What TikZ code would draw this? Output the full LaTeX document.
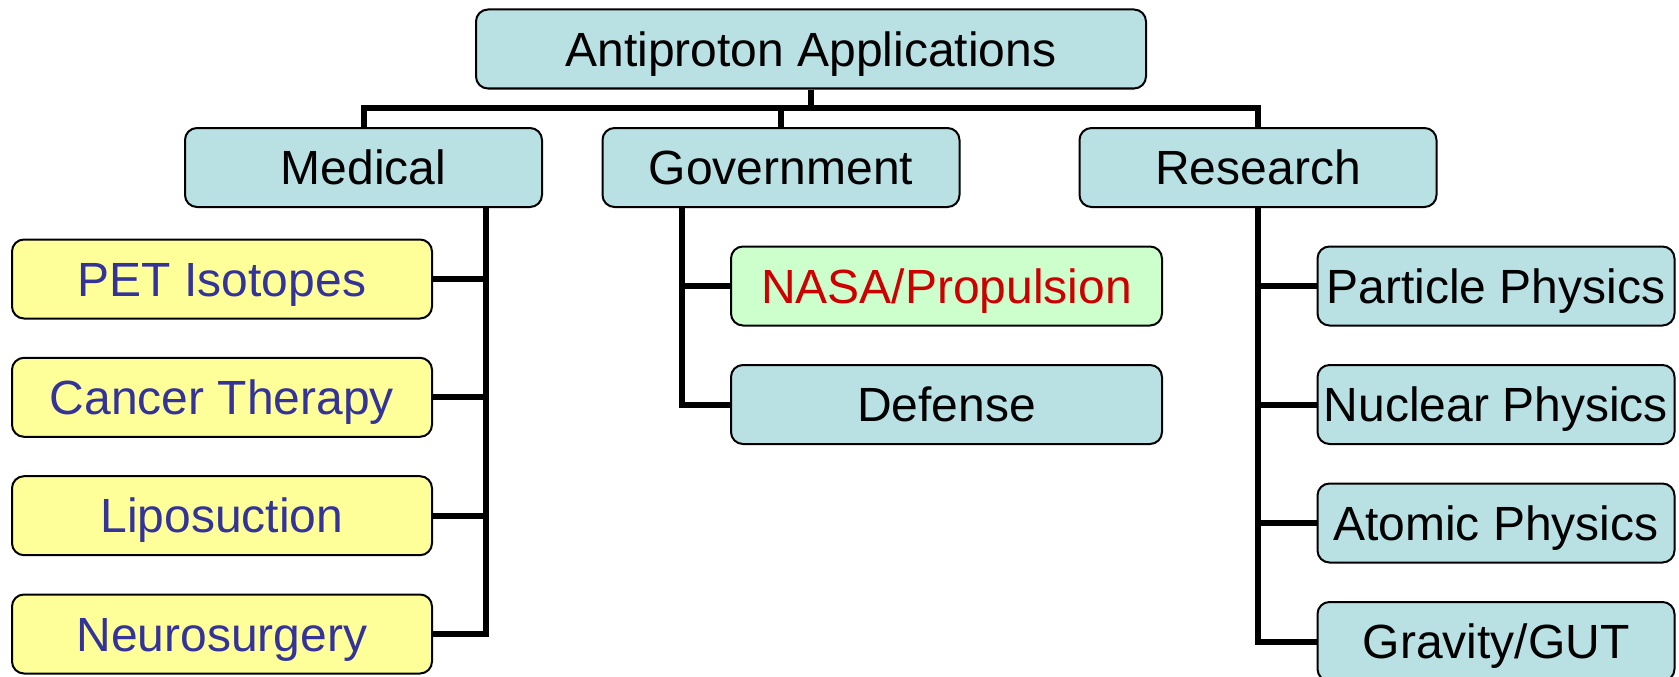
\documentclass[tikz,border=0pt]{standalone}
\usepackage{fontspec}
\setmainfont{Liberation Sans}
\definecolor{boxblue}{RGB}{185,224,227}
\definecolor{boxyellow}{RGB}{255,255,153}
\definecolor{boxgreen}{RGB}{204,255,204}
\definecolor{txtblue}{RGB}{51,51,153}
\definecolor{txtred}{RGB}{204,0,0}
\begin{document}
\begin{tikzpicture}[x=1pt,y=-1pt,
  card/.style={draw=black, line width=2pt, rounded corners=12pt,
    minimum height=79pt, inner sep=0pt, anchor=center,
    text height=34.4pt, text depth=0pt,
    font=\fontsize{48}{56}\selectfont},
  bluecard/.style={card, fill=boxblue, text=black},
  yellowcard/.style={card, fill=boxyellow, text=txtblue, minimum width=420pt},
  conn/.style={draw=black, line width=6pt}]
\useasboundingbox (0,0) rectangle (1679,677);

% top level
\node[bluecard, minimum width=670pt] (root) at (811,49) {Antiproton Applications};
\node[bluecard, minimum width=357pt] (med) at (363.5,167.5) {Medical};
\node[bluecard, minimum width=357pt] (gov) at (781,167.5) {Government};
\node[bluecard, minimum width=357pt] (res) at (1258,167.5) {Research};

% medical branch
\node[yellowcard] (pet)   at (222,279)   {PET Isotopes};
\node[yellowcard] (canc)  at (222,397.3) {Cancer Therapy};
\node[yellowcard] (lipo)  at (222,515.7) {Liposuction};
\node[yellowcard] (neuro) at (222,634)   {Neurosurgery};

% government branch
\node[card, fill=boxgreen, text=txtred, minimum width=431pt] (nasa) at (946.5,286) {NASA/Propulsion};
\node[bluecard, minimum width=431pt] (def) at (946.5,404.5) {Defense};

% research branch
\node[bluecard, minimum width=357pt] (part) at (1496,286)   {Particle Physics};
\node[bluecard, minimum width=357pt] (nucl) at (1496,404.5) {Nuclear Physics};
\node[bluecard, minimum width=357pt] (atom) at (1496,523)   {Atomic Physics};
\node[bluecard, minimum width=357pt] (grav) at (1496,641.5) {Gravity/GUT};

% trunk positions
\coordinate (bus) at (811,108);
\coordinate (mtrunk) at (486,207);
\coordinate (gtrunk) at (682,207);

% top bus
\draw[conn] (root.south) -- (bus);
\draw[conn] (med.north) |- (bus) -| (res.north);
\draw[conn] (gov.north) -- (gov.north |- bus);

% medical trunk
\draw[conn] (mtrunk |- med.south) |- (neuro.east);
\draw[conn] (pet.east) -- (pet.east -| mtrunk);
\draw[conn] (canc.east) -- (canc.east -| mtrunk);
\draw[conn] (lipo.east) -- (lipo.east -| mtrunk);

% government trunk
\draw[conn] (gtrunk |- gov.south) |- (def.west);
\draw[conn] (nasa.west) -- (nasa.west -| gtrunk);

% research trunk
\draw[conn] (res.south) |- (grav.west);
\draw[conn] (part.west) -- (part.west -| res.south);
\draw[conn] (nucl.west) -- (nucl.west -| res.south);
\draw[conn] (atom.west) -- (atom.west -| res.south);
\end{tikzpicture}
\end{document}
